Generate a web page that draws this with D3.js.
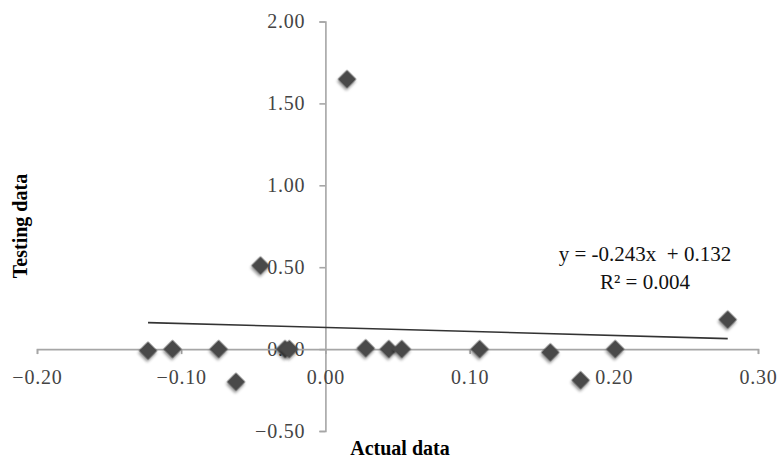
<!DOCTYPE html>
<html>
<head>
<meta charset="utf-8">
<script src="https://cdn.jsdelivr.net/npm/d3@7"></script>
<style>
  body { margin: 0; background: #fff; }
  text { font-family: "Liberation Serif", "Times New Roman", serif; }
</style>
</head>
<body>
<script>
// data (actual vs testing)
var actualData = [-0.123, -0.106, -0.074, -0.062, -0.045, -0.028, -0.025, 0.015,
                  0.028, 0.044, 0.053, 0.107, 0.156, 0.177, 0.201, 0.279];
var testingData = [-0.01, 0.00, 0.00, -0.20, 0.51, 0.00, 0.00, 1.648,
                   0.005, 0.00, 0.00, 0.00, -0.02, -0.19, 0.00, 0.18];
var xTicks = [-0.20, -0.10, 0.00, 0.10, 0.20, 0.30];
var yTicks = [-0.50, 0.00, 0.50, 1.00, 1.50, 2.00];
var trendSlope = -0.243;
var trendIntercept = 0.132;
var eqLines = ["y = -0.243x  + 0.132", "R\u00b2 = 0.004"];

var width = 779, height = 459;

var svg = d3.select("body").append("svg")
    .attr("width", width)
    .attr("height", height);

var defs = svg.append("defs");
var f = defs.append("filter").attr("id", "shadow")
    .attr("x", "-50%").attr("y", "-50%").attr("width", "200%").attr("height", "200%");
f.append("feGaussianBlur").attr("in", "SourceAlpha").attr("stdDeviation", 1.5);
f.append("feOffset").attr("dx", 1).attr("dy", 2).attr("result", "off");
f.append("feComponentTransfer").append("feFuncA").attr("type", "linear").attr("slope", 0.45);
var merge = f.append("feMerge");
merge.append("feMergeNode");
merge.append("feMergeNode").attr("in", "SourceGraphic");

var x = d3.scaleLinear().domain([-0.2, 0.3]).range([37, 758]);
var y = d3.scaleLinear().domain([-0.5, 2.0]).range([431, 21.5]);

// y axis crosses at x = 0
var yAxis = svg.append("g")
    .attr("transform", "translate(" + x(0) + ",0)")
    .call(d3.axisLeft(y).tickValues(yTicks).tickSize(6).tickPadding(14)
        .tickFormat(d3.format(".2f")));

// x axis crosses at y = 0
var xAxis = svg.append("g")
    .attr("transform", "translate(0," + y(0) + ")")
    .call(d3.axisBottom(x).tickValues(xTicks).tickSize(5).tickPadding(16)
        .tickFormat(d3.format(".2f")));

[xAxis, yAxis].forEach(function (g) {
    g.select(".domain").attr("stroke", "#a6a6a6").attr("stroke-width", 1.6);
    g.selectAll(".tick line").attr("stroke", "#a6a6a6").attr("stroke-width", 1.6);
    g.selectAll(".tick text")
        .attr("fill", "#444")
        .style("font-size", "20px")
        .style("letter-spacing", "0.8px")
        .style("font-family", "Liberation Serif, serif");
});

// trendline over the x extent of the data
var xExt = d3.extent(actualData);
svg.append("line")
    .attr("x1", x(xExt[0])).attr("y1", y(trendSlope * xExt[0] + trendIntercept))
    .attr("x2", x(xExt[1])).attr("y2", y(trendSlope * xExt[1] + trendIntercept))
    .attr("stroke", "#333")
    .attr("stroke-width", 1.6);

// diamond markers
var diamond = d3.symbol().type(d3.symbolSquare).size(170);
svg.append("g").selectAll("path")
    .data(actualData)
    .enter().append("path")
    .attr("d", diamond)
    .attr("transform", function (d, i) {
        return "translate(" + x(d) + "," + y(testingData[i]) + ") rotate(45)";
    })
    .attr("fill", "#4a4a4a")
    .attr("filter", "url(#shadow)");

// regression equation
svg.append("g").selectAll("text")
    .data(eqLines)
    .enter().append("text")
    .attr("x", 645)
    .attr("y", function (d, i) { return 261 + i * 28; })
    .attr("text-anchor", "middle")
    .style("font-size", "21px")
    .style("white-space", "pre")
    .attr("fill", "#111")
    .text(function (d) { return d; });

// axis titles
svg.append("text")
    .attr("x", 400).attr("y", 455)
    .attr("text-anchor", "middle")
    .style("font-size", "20px")
    .style("font-weight", "bold")
    .text("Actual data");

svg.append("text")
    .attr("transform", "translate(27,226) rotate(-90)")
    .attr("text-anchor", "middle")
    .style("font-size", "20px")
    .style("font-weight", "bold")
    .text("Testing data");
</script>
</body>
</html>
